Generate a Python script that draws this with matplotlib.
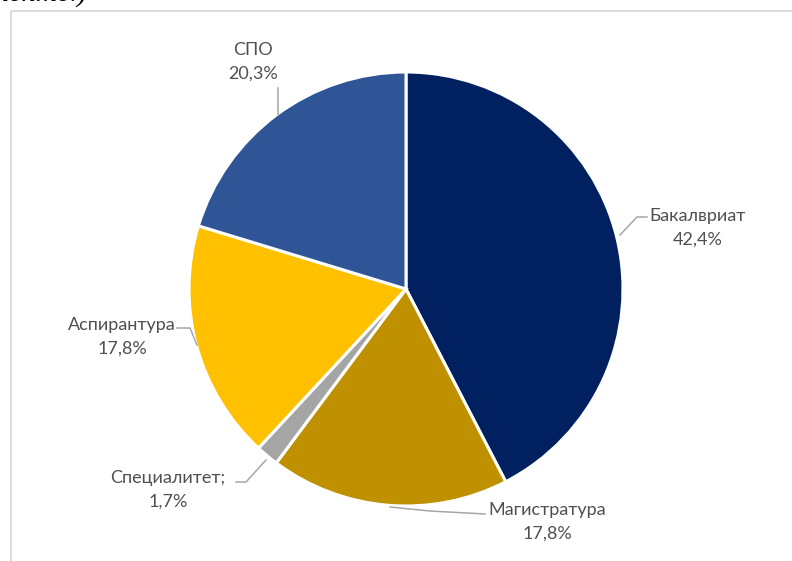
import matplotlib.pyplot as plt
from matplotlib.patches import Rectangle

# data
labels = ['Бакалвриат', 'Магистратура', 'Специалитет;', 'Аспирантура', 'СПО']
shares = [42.4, 17.8, 1.7, 17.8, 20.3]
colors = ['#002060', '#BF9000', '#A5A5A5', '#FFC000', '#2F5597']

# label text positions (pixel coords, y from top) and leader lines
label_pos = [(698, 216), (547, 510), (168, 478), (122, 325), (253, 50)]
leaders = [
    [(620, 235), (637, 217), (647, 217)],
    [(390, 507), (430, 511), (485, 514)],
    [(266, 460), (246, 482), (236, 482)],
    [(197, 345), (190, 328), (177, 328)],
    [(278, 115), (278, 88)],
]

W, H = 792, 561
fig = plt.figure(figsize=(W / 100, H / 100), dpi=100)
ax = fig.add_axes([0, 0, 1, 1])

# chart border
ax.add_patch(Rectangle((10.5, -10), W + 20, H - 11 + 10, fill=False,
                       edgecolor='#D9D9D9', linewidth=1.3))

# cut-off caption line above the chart
ax.text(87, H + 6, 'в документе.)', ha='right', va='center', fontsize=21,
        style='italic', family='Liberation Serif', color='black')

ax.pie(shares, colors=colors, startangle=90, counterclock=False,
       center=(406, H - 289), radius=217, frame=True,
       wedgeprops=dict(edgecolor='white', linewidth=2.2))
ax.set_xlim(0, W)
ax.set_ylim(0, H)
ax.set_aspect('equal')
ax.axis('off')

for name, val, (x, y), pts in zip(labels, shares, label_pos, leaders):
    ax.text(x, H - y, name, ha='center', va='center', fontsize=13,
            family='Lato', color='#505050')
    ax.text(x, H - y - 24, f'{val:.1f}%'.replace('.', ','), ha='center',
            va='center', fontsize=13, family='Lato', color='#505050')
    ax.plot([p[0] for p in pts], [H - p[1] for p in pts], color='#A6A6A6',
            linewidth=1.1)

fig.savefig('out.png', dpi=100)
